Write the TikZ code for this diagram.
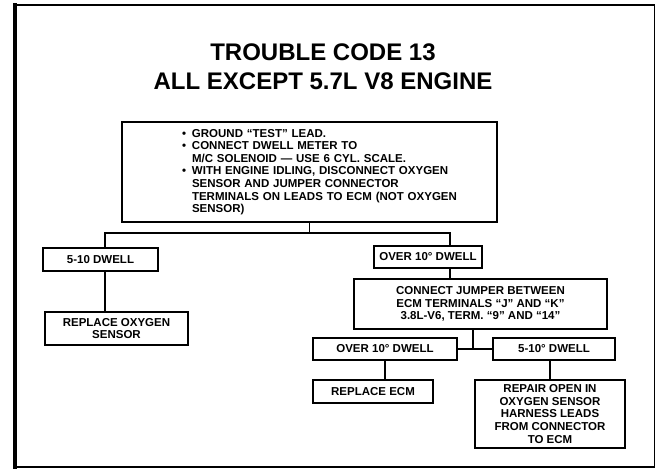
\documentclass[tikz,border=0pt]{standalone}
\usepackage{fontspec}
\setmainfont{Liberation Sans}
\usetikzlibrary{positioning, calc}
\tikzset{
  stepbox/.style={draw, line width=1.4pt, inner sep=0pt, align=center,
    font=\fontsize{11.5}{12.6}\selectfont\bfseries},
  link/.style={line width=1.4pt},
  edge/.style={line cap=rect}
}
\newcommand{\blt}{\hspace*{60pt}\makebox[10pt][l]{\textbullet}}
\newcommand{\bcont}{\hspace*{70pt}}

\begin{document}
\begin{tikzpicture}[x=1pt, y=-1pt]
  \useasboundingbox (0,0) rectangle (658,470);
  % page frame
  \coordinate (nw) at (15,5);
  \coordinate (ne) at (654,5);
  \coordinate (se) at (654,467);
  \coordinate (sw) at (15,467);
  \draw[edge, line width=3.5pt] (sw) -- (nw);
  \draw[edge, line width=2.5pt] (nw) -- (ne);
  \draw[edge, line width=0.8pt] (ne) -- (se);
  \draw[edge, line width=2.5pt] (se) -- (sw);

  \node[font=\fontsize{24}{29}\selectfont\bfseries, align=center] (title) at (323,66.5)
    {TROUBLE CODE 13\\ALL EXCEPT 5.7L V8 ENGINE};

  \node[stepbox, align=left, text width=375pt, minimum height=100pt] (check) at (309.5,172) {%
    \blt GROUND ``TEST'' LEAD.\\
    \blt CONNECT DWELL METER TO\\
    \bcont M/C SOLENOID --- USE 6 CYL. SCALE.\\
    \blt WITH ENGINE IDLING, DISCONNECT OXYGEN\\
    \bcont SENSOR AND JUMPER CONNECTOR\\
    \bcont TERMINALS ON LEADS TO ECM (NOT OXYGEN\\
    \bcont SENSOR)};

  \node[stepbox, minimum width=115pt, minimum height=23pt] (b510) at (100.5,259.5) {5-10 DWELL};
  \node[stepbox, minimum width=143pt, minimum height=33pt] (roxy) at (116.5,328.5) {REPLACE OXYGEN\\SENSOR};
  \node[stepbox, minimum width=108pt, minimum height=22pt] (o10a) at (428,257) {OVER 10° DWELL};
  \node[stepbox, minimum width=253pt, minimum height=50pt] (jump) at (480.5,304)
    {CONNECT JUMPER BETWEEN\\ECM TERMINALS ``J'' AND ``K''\\3.8L-V6, TERM. ``9'' AND ``14''};
  \node[stepbox, minimum width=144pt, minimum height=22pt] (o10b) at (385,349) {OVER 10° DWELL};
  \node[stepbox, minimum width=122pt, minimum height=22pt] (d510b) at (554,349) {5-10° DWELL};
  \node[stepbox, minimum width=120pt, minimum height=23pt] (recm) at (373,391.5) {REPLACE ECM};
  \node[stepbox, minimum width=150pt, minimum height=68pt] (repair) at (550,414)
    {REPAIR OPEN IN\\OXYGEN SENSOR\\HARNESS LEADS\\FROM CONNECTOR\\TO ECM};

  % branch points
  \coordinate (busL) at (105,233);
  \coordinate (busR) at (450,233);
  \coordinate (jx) at (473,349);

  \draw[link] (check.south) -- (check.south |- busL);
  \draw[link] (b510.north -| busL) -- (busL) -- (busR) -- (o10a.north -| busR);
  \draw[link] (b510.south -| busL) -- (roxy.north -| busL);
  \draw[link] (o10a.south -| busR) -- (jump.north -| busR);
  \draw[link] (jump.south -| jx) -- (jx);
  \draw[link] (o10b.east) -- (d510b.west);
  \draw[link] (o10b.south) -- (o10b.south |- recm.north);
  \draw[link] (repair.north) -- (repair.north |- d510b.south);
\end{tikzpicture}
\end{document}
